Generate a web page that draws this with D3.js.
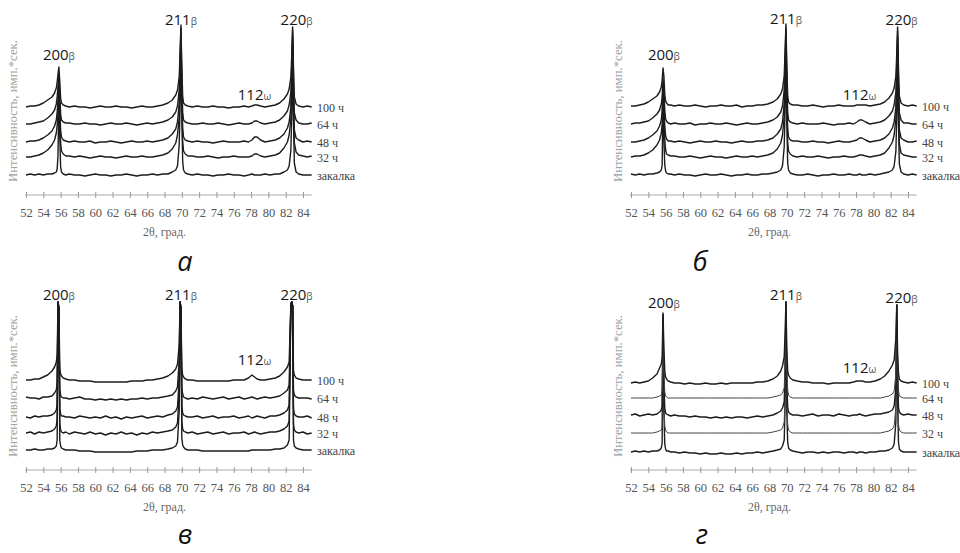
<!DOCTYPE html>
<html>
<head>
<meta charset="utf-8">
<script src="https://cdn.jsdelivr.net/npm/d3@7"></script>
<style>
  body { margin: 0; background: #fff; }
  svg { display: block; }
</style>
</head>
<body>
<div id="chart"></div>
<script>
// 2θ grid shared by every pattern (denser around the peaks)
const twoTheta = [52.0, 52.5, 53.0, 53.5, 54.0, 54.5, 55.0,
  55.3, 55.5, 55.6, 55.7, 55.8, 55.9, 56.0, 56.1, 56.3, 56.6,
  57.0, 57.6, 58.2, 58.8, 59.4, 60.0, 60.6, 61.2, 61.8, 62.4, 63.0, 63.6, 64.2, 64.8, 65.4, 66.0, 66.6, 67.2, 67.8, 68.4, 68.9,
  69.3, 69.5, 69.7, 69.8, 69.9, 70.0, 70.1, 70.2, 70.4, 70.7,
  71.2, 71.8, 72.4, 73.0, 73.6, 74.2, 74.8, 75.4, 76.0, 76.6, 77.2, 77.7, 78.1, 78.4, 78.7, 79.1, 79.6, 80.2, 80.8, 81.3, 81.8,
  82.2, 82.4, 82.6, 82.7, 82.8, 82.9, 83.0, 83.2, 83.5,
  84.0, 84.5, 85.0];

const xTicks = [52, 54, 56, 58, 60, 62, 64, 66, 68, 70, 72, 74, 76, 78, 80, 82, 84];
const traceNames = ["закалка", "32 ч", "48 ч", "64 ч", "100 ч"];
const peakNames = ["200", "211", "220", "112"];
const peakPhases = ["β", "β", "β", "ω"];
const peakPos = [55.8, 69.9, 82.8, 78.4];

// vertical shift of each pattern (закалка, 32, 48, 64, 100 ч)
const offsetsA = [0, 18, 33, 51, 68];
const offsetsB = [0, 18, 33, 51, 69];
const offsetsV = [0, 17, 33, 52, 70];
const offsetsG = [0, 19, 37, 54, 69];

// ---- panel а ----
const aQuench = [0,1,0,1,0,1,1, 2,3,6,20,82,40,8,3,1,0,
  1,0,0,-1,0,1,0,0,-1,0,0,1,0,-1,0,0,1,0,1,1,3, 5,9,30,70,125,60,14,5,2,1,
  0,1,0,0,-1,0,0,1,0,0,-1,0,1,0,0,0,1,0,1,1,3, 5,9,25,60,120,55,12,3,1, 0,0,0];
const a32 = [0,0,1,2,4,7,12, 17,24,32,45,74,40,14,6,3,1,
  1,0,1,0,-1,0,1,0,0,-1,0,1,0,0,1,0,0,1,2,4,8, 14,22,40,75,118,55,16,6,3,1,
  1,0,0,1,0,-1,0,0,1,0,0,0,1,3,3,1,0,1,2,4,9, 15,22,38,70,115,50,14,5,2, 1,0,1];
const a48 = [0,1,1,2,4,7,11, 16,22,30,42,64,35,12,5,2,1,
  0,1,0,0,1,-1,0,0,1,0,-1,0,1,0,0,1,0,1,2,4,8, 13,20,38,70,108,50,14,5,2,1,
  0,1,0,0,-1,0,1,0,0,0,1,0,2,5,5,2,0,1,2,4,8, 14,20,35,65,106,48,12,4,2, 0,1,0];
const a64 = [0,0,1,2,3,6,10, 14,20,27,38,52,30,10,4,2,1,
  1,0,0,1,0,0,-1,0,1,0,0,1,0,-1,0,1,0,1,2,4,7, 12,18,34,62,96,45,12,4,2,1,
  0,0,1,0,0,1,0,-1,0,1,0,0,1,3,3,1,0,1,2,4,8, 13,19,32,58,94,44,11,4,1, 0,0,1];
const a100 = [0,1,1,2,4,7,10, 14,19,25,33,40,26,9,4,2,1,
  0,1,0,0,-1,0,1,0,0,1,0,0,-1,0,1,0,0,1,2,4,7, 12,17,30,55,82,40,11,4,2,1,
  0,1,0,0,1,0,0,-1,0,0,1,0,1,2,2,1,0,1,2,4,8, 13,18,30,52,80,40,10,3,1, 0,1,0];

// ---- panel б ----
const bQuench = [1,0,1,0,1,1,2, 3,5,10,78,35,10,4,2,1,1,
  0,1,0,0,-1,0,1,0,0,1,0,-1,0,0,1,0,0,1,1,2,3, 5,9,28,65,126,55,12,5,2,1,
  0,0,1,0,-1,0,0,1,0,0,1,0,0,1,0,0,1,0,1,2,3, 5,9,24,58,118,52,11,3,1, 0,1,0];
const b32 = [0,1,1,2,4,7,12, 17,24,33,70,45,18,7,3,2,1,
  1,0,0,1,0,-1,0,1,0,0,-1,0,1,0,0,1,0,1,2,4,8, 14,22,40,74,117,52,15,6,3,1,
  0,1,0,0,1,0,-1,0,0,1,0,0,1,2,2,1,0,1,2,4,9, 15,22,38,70,113,48,13,4,2, 1,0,0];
const b48 = [0,0,1,2,4,7,11, 16,22,31,58,40,16,6,3,1,1,
  0,1,0,-1,0,1,0,0,1,0,0,-1,0,1,0,0,1,1,2,4,8, 13,20,38,70,108,48,14,5,2,1,
  1,0,0,1,0,0,-1,0,1,0,0,1,2,4,4,2,0,1,2,4,8, 14,20,35,64,105,46,12,4,2, 0,0,1];
const b64 = [0,1,1,2,3,6,10, 14,20,27,46,34,14,5,3,1,0,
  1,0,0,1,-1,0,0,1,0,0,1,0,-1,0,1,0,0,1,2,4,7, 12,18,34,62,96,44,12,4,2,1,
  0,1,0,0,0,1,0,-1,0,0,1,0,2,4,4,2,0,1,2,4,8, 13,19,32,58,93,42,11,4,1, 1,0,0];
const b100 = [0,0,1,2,4,7,10, 14,19,26,38,30,12,5,3,1,1,
  0,1,0,0,1,0,-1,0,0,1,0,0,1,-1,0,0,1,1,2,4,7, 12,17,30,55,82,40,11,4,2,1,
  1,0,0,1,0,-1,0,0,1,0,0,0,1,1,1,1,0,1,2,4,8, 13,18,30,52,79,38,10,3,1, 0,1,0];

// ---- panel в ----
const vQuench = [0,0,1,0,0,1,1, 2,4,10,148,140,10,4,2,1,0,
  0,0,-1,-1,-1,-2,-2,-2,-2,-2,-2,-2,-2,-1,-1,-1,0,0,0,1,2, 4,8,40,148,140,12,5,3,1,0,
  0,0,-1,-1,-1,-1,-1,-1,-1,-1,-1,-1,0,0,0,0,0,0,1,1,2, 5,10,146,148,144,10,4,2,1, 0,0,0];
const v32 = [0,1,-1,1,0,1,2, 4,7,14,131,125,10,3,1,0,1,
  -1,1,0,-1,1,-1,0,-2,0,-1,1,-1,0,-2,0,-1,1,0,1,2,3, 6,10,40,131,124,12,4,2,1,0,
  1,-1,0,1,-1,0,1,-1,0,0,1,-1,0,1,0,-1,0,1,1,2,4, 7,12,129,131,127,9,3,1,0, 1,-1,0];
const v48 = [0,-1,1,0,1,1,2, 4,7,13,115,108,9,3,1,1,0,
  0,-1,1,0,-1,0,-1,1,-1,0,-2,0,-1,0,1,-1,0,1,0,2,3, 6,10,38,115,108,11,4,2,1,0,
  0,1,-1,0,1,-1,0,0,1,-1,0,1,-1,0,1,0,-1,1,1,2,4, 7,12,113,115,111,9,3,1,0, 0,1,-1];
const v64 = [1,0,0,-1,1,1,2, 5,8,15,96,90,9,3,1,0,0,
  -1,0,1,-1,-1,-2,-1,-2,-1,-2,-1,-2,-1,-1,0,-1,0,0,1,2,3, 7,11,38,96,90,10,4,1,0,-1,
  0,-1,1,0,-1,0,1,-1,0,1,-1,0,1,0,-1,0,1,0,1,2,5, 8,13,94,96,92,8,3,1,0, 0,0,-1];
const v100 = [0,0,1,1,3,5,9, 13,18,25,78,72,12,6,4,2,1,
  0,0,-1,-1,-1,-2,-2,-2,-2,-2,-2,-2,-1,-1,-1,0,0,1,2,4,7, 11,16,35,78,72,12,5,3,1,0,
  0,-1,-1,-1,-1,-1,-1,-1,0,0,0,2,5,3,1,0,0,1,2,4,8, 13,18,76,78,74,10,5,2,1, 0,0,0];

// ---- panel г ----
const gQuench = [0,1,0,1,0,1,1, 2,4,9,134,40,8,3,1,1,0,
  0,-1,0,-1,-1,-2,-1,-2,-2,-1,-2,-2,-1,-2,-1,-1,0,-1,0,1,2, 3,6,12,45,150,40,10,4,2,1,
  0,-1,0,0,-1,0,-1,0,0,-1,0,0,-1,0,0,-1,0,0,1,1,2, 4,8,30,147,50,10,3,1,0, 0,0,0];
const g32 = [0,0,0,0,0,0,1, 2,3,7,117,35,7,3,1,0,0,
  0,0,0,0,0,0,0,0,0,0,0,0,0,0,0,0,0,0,0,1,2, 3,5,11,40,131,35,9,3,1,0,
  0,0,0,0,0,0,0,0,0,0,0,0,0,0,0,0,0,0,0,1,2, 4,7,26,128,44,9,3,1,0, 0,0,0];
const g48 = [0,1,-1,0,1,0,1, 3,5,9,100,32,7,2,1,0,-1,
  0,-1,-1,-2,-1,-2,-2,-3,-2,-3,-2,-3,-2,-2,-3,-2,-1,-2,-1,0,2, 4,7,13,40,113,32,8,3,1,0,
  0,-1,0,1,-1,0,0,-1,1,0,-1,0,0,1,0,-1,0,1,1,2,3, 5,9,28,110,40,8,3,1,0, 1,0,0];
const g64 = [0,0,0,0,0,0,1, 2,3,7,84,28,6,2,1,0,0,
  0,0,0,0,0,0,0,0,0,0,0,0,0,0,0,0,0,0,0,1,2, 3,5,10,35,96,30,8,3,1,0,
  0,0,0,0,0,0,0,0,0,0,0,0,0,0,0,0,0,0,0,1,2, 4,7,24,93,36,8,2,1,0, 0,0,0];
const g100 = [0,1,0,1,2,5,9, 15,19,26,70,35,12,6,4,2,1,
  0,0,-1,0,-1,-1,0,-1,-1,0,-1,0,0,0,0,0,1,1,2,4,7, 12,17,26,50,81,35,12,8,5,3,
  2,1,1,0,0,0,-1,0,0,0,0,1,2,2,2,1,1,2,4,7,12, 18,23,45,78,30,10,4,2,1, 0,1,0];

// layout of the four panels
const panels = [
  { tx: 0, ty: 0, zero: 175, offsets: offsetsA, traces: [aQuench, a32, a48, a64, a100],
    labelY: [60, 25, 25, 100], smooth: [] },
  { tx: 605, ty: 0, zero: 175, offsets: offsetsB, traces: [bQuench, b32, b48, b64, b100],
    labelY: [60, 24, 25, 100], smooth: [] },
  { tx: 0, ty: 275, zero: 175, offsets: offsetsV, traces: [vQuench, v32, v48, v64, v100],
    labelY: [25, 25, 25, 90], smooth: [] },
  { tx: 605, ty: 275, zero: 177, offsets: offsetsG, traces: [gQuench, g32, g48, g64, g100],
    labelY: [33, 25, 28, 98], smooth: [1, 3] }
];
const letters = [
  { t: "а", x: 185, y: 271 }, { t: "б", x: 700, y: 271 },
  { t: "в", x: 185, y: 544 }, { t: "г", x: 702, y: 544 }
];

const W = 960, H = 553;
const svg = d3.select("#chart").append("svg")
  .attr("width", W).attr("height", H);

const x = d3.scaleLinear().domain([52, 84]).range([26, 303]);

panels.forEach(function (p) {
  const g = svg.append("g").attr("transform", `translate(${p.tx}, ${p.ty})`);
  const y = d3.scaleLinear().domain([0, 160]).range([p.zero, p.zero - 160]);

  // x axis
  const axisY = 195;
  const ax = g.append("g")
    .attr("transform", `translate(0, ${axisY})`)
    .call(d3.axisBottom(x).tickValues(xTicks).tickSize(3).tickPadding(10));
  ax.select(".domain")
    .attr("d", `M${x(52) - 1},0H${x(85)}`)
    .attr("stroke", "#aaa");
  ax.selectAll(".tick line").attr("y1", -3).attr("y2", 3).attr("stroke", "#999");
  ax.selectAll(".tick text")
    .style("font-family", "'Liberation Serif', 'Times New Roman', serif")
    .style("font-size", "12.5px")
    .attr("fill", "#555");

  g.append("text")
    .attr("x", (x(52) + x(84)) / 2)
    .attr("y", 236)
    .attr("text-anchor", "middle")
    .style("font-family", "'Liberation Serif', serif")
    .style("font-size", "12px")
    .attr("fill", "#666")
    .text("2θ, град.");

  // y axis title
  g.append("text")
    .attr("transform", `translate(17, 111) rotate(-90)`)
    .attr("text-anchor", "middle")
    .style("font-family", "'Liberation Serif', serif")
    .style("font-size", "12px")
    .attr("textLength", 142)
    .attr("lengthAdjust", "spacingAndGlyphs")
    .attr("fill", "#a0a0a0")
    .text("Интенсивность, имп.*сек.");

  // patterns
  p.traces.forEach(function (vals, k) {
    if (vals.length !== twoTheta.length) console.error("length", k, vals.length);
    const off = p.offsets[k];
    const line = d3.line()
      .x((d, i) => x(twoTheta[i]))
      .y(d => y(off + d));
    const sm = p.smooth.includes(k);
    g.append("path")
      .datum(vals)
      .attr("d", line)
      .attr("fill", "none")
      .attr("stroke", sm ? "#444" : "#1c1c1c")
      .attr("stroke-width", sm ? 1 : 1.4)
      .attr("stroke-linejoin", "round");

    g.append("text")
      .attr("x", 317)
      .attr("y", y(off) + 1)
      .attr("dy", "0.35em")
      .style("font-family", "'Liberation Serif', serif")
      .style("font-size", "12px")
      .attr("fill", "#444")
      .text(traceNames[k]);
  });

  // peak labels
  peakNames.forEach(function (nm, j) {
    const t = g.append("text")
      .attr("x", x(peakPos[j]) + (j === 2 ? 4 : 0))
      .attr("y", p.labelY[j])
      .attr("text-anchor", "middle")
      .style("font-family", "'Open Sans', sans-serif")
      .style("font-size", "15px")
      .attr("fill", "#161616");
    t.append("tspan").text(nm);
    t.append("tspan").style("font-size", "10px").attr("fill", "#555").text(peakPhases[j]);
  });
});

svg.selectAll(".letter")
  .data(letters)
  .join("text")
  .attr("class", "letter")
  .attr("x", d => d.x)
  .attr("y", d => d.y)
  .attr("text-anchor", "middle")
  .style("font-family", "'Open Sans', sans-serif")
  .style("font-style", "italic")
  .style("font-size", "27px")
  .attr("fill", "#111")
  .text(d => d.t);
</script>
</body>
</html>
